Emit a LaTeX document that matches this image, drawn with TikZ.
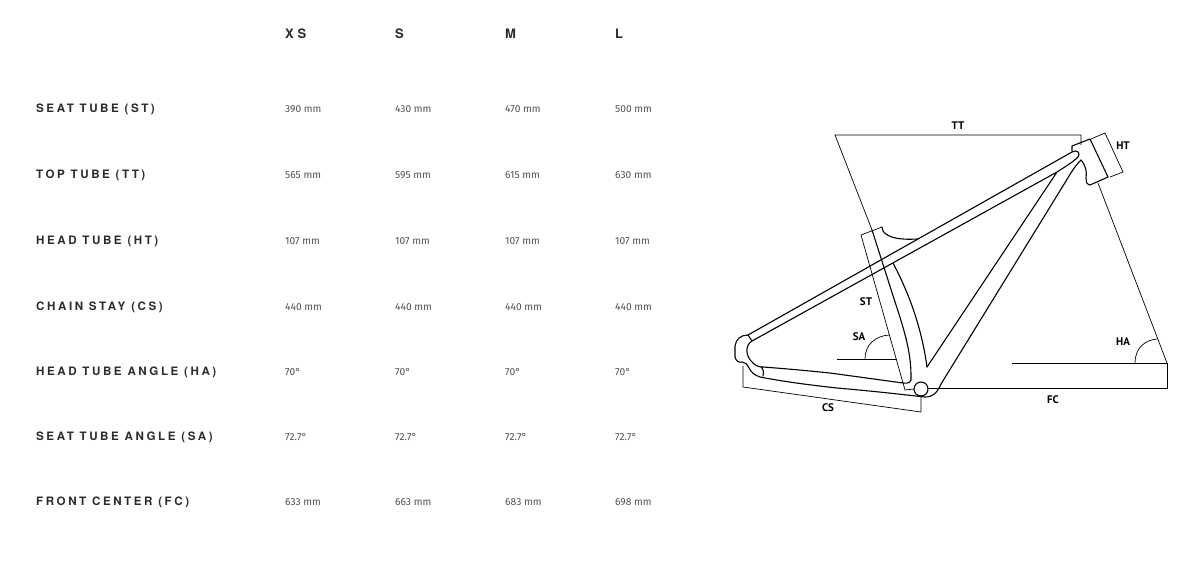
\documentclass[tikz,border=0pt]{standalone}
\usepackage{fontspec}
\setmainfont{TeX Gyre Heros}
\newfontfamily\rowfont[LetterSpace=22]{TeX Gyre Heros}
\newfontfamily\sizefont[LetterSpace=28]{TeX Gyre Heros}
\newfontfamily\valfont{Fira Sans}
\newfontfamily\tagfont{PT Sans}
\usepackage{tikz}
\usetikzlibrary{positioning}
\definecolor{encre}{RGB}{43,43,43}
\definecolor{gris}{RGB}{80,80,80}

\begin{document}
\begin{tikzpicture}[
	x=1pt, y=-1pt,
	rowname/.style={anchor=base west, inner sep=0pt, text=encre, font=\rowfont\bfseries\fontsize{11.6}{11.6}\selectfont},
	sizename/.style={anchor=base west, inner sep=0pt, text=encre, font=\sizefont\bfseries\fontsize{13}{13}\selectfont},
	val/.style={anchor=base west, inner sep=0pt, text=gris, font=\valfont\fontsize{10.2}{10.2}\selectfont},
	tag/.style={inner sep=0pt, font=\tagfont\bfseries\fontsize{11}{11}\selectfont},
	tube/.style={draw, line width=1.1pt, line join=round, line cap=round},
	dim/.style={draw, line width=0.7pt}
	]
	\useasboundingbox (0,0) rectangle (1195,565);

	% Les tailles
	\node[sizename] (xs) at (285,38) {XS};
	\node[sizename] (s) at (395,38) {S};
	\node[sizename] (m) at (505,38) {M};
	\node[sizename] (l) at (615,38) {L};

	% Les cotes
	\node[rowname] (st) at (36,112.5) {SEAT TUBE (ST)};
	\node[val] (st-xs) at (285,112.5) {390 mm};
	\node[val] (st-s) at (395,112.5) {430 mm};
	\node[val] (st-m) at (505,112.5) {470 mm};
	\node[val] (st-l) at (615,112.5) {500 mm};

	\node[rowname] (tt) at (36,178.5) {TOP TUBE (TT)};
	\node[val] (tt-xs) at (285,178.5) {565 mm};
	\node[val] (tt-s) at (395,178.5) {595 mm};
	\node[val] (tt-m) at (505,178.5) {615 mm};
	\node[val] (tt-l) at (615,178.5) {630 mm};

	\node[rowname] (ht) at (36,244) {HEAD TUBE (HT)};
	\node[val] (ht-xs) at (285,244) {107 mm};
	\node[val] (ht-s) at (395,244) {107 mm};
	\node[val] (ht-m) at (505,244) {107 mm};
	\node[val] (ht-l) at (615,244) {107 mm};

	\node[rowname] (cs) at (36,310) {CHAIN STAY (CS)};
	\node[val] (cs-xs) at (285,310) {440 mm};
	\node[val] (cs-s) at (395,310) {440 mm};
	\node[val] (cs-m) at (505,310) {440 mm};
	\node[val] (cs-l) at (615,310) {440 mm};

	\node[rowname] (ha) at (36,375.5) {HEAD TUBE ANGLE (HA)};
	\node[val] (ha-xs) at (285,375.5) {70°};
	\node[val] (ha-s) at (395,375.5) {70°};
	\node[val] (ha-m) at (505,375.5) {70°};
	\node[val] (ha-l) at (615,375.5) {70°};

	\node[rowname] (sa) at (36,440.5) {SEAT TUBE ANGLE (SA)};
	\node[val] (sa-xs) at (285,440.5) {72.7°};
	\node[val] (sa-s) at (395,440.5) {72.7°};
	\node[val] (sa-m) at (505,440.5) {72.7°};
	\node[val] (sa-l) at (615,440.5) {72.7°};

	\node[rowname] (fc) at (36,505.5) {FRONT CENTER (FC)};
	\node[val] (fc-xs) at (285,505.5) {633 mm};
	\node[val] (fc-s) at (395,505.5) {663 mm};
	\node[val] (fc-m) at (505,505.5) {683 mm};
	\node[val] (fc-l) at (615,505.5) {698 mm};

	% Le cadre
	\draw[tube] (748,335) -- (1072,152) .. controls (1077,149) and (1081,153) .. (1078,157)
		.. controls (1072,163) and (1063,168) .. (1057,172);
	\draw[tube] (752,341) -- (1057,172) -- (927,367);
	\draw[tube] (1081,160) .. controls (1075,166) and (1070,174) .. (1066,181) -- (941,384)
		.. controls (937,393) and (933,397) .. (925,397) -- (907,395)
		.. controls (880,392) and (860,390) .. (837,388) .. controls (800,384) and (775,380) .. (760,377)
		.. controls (754,375) and (751,372) .. (749,368) .. controls (747,364) and (745,362) .. (742,362)
		.. controls (739,363) and (736,361) .. (735,357) -- (735,346)
		.. controls (736,339) and (741,335) .. (748,335);
	\draw[tube] (763,367) .. controls (790,369) and (810,371) .. (830,373) -- (903,383)
		.. controls (909,384) and (912,382) .. (911,376) .. controls (911,355) and (906,335) .. (896,305) -- (872,230);
	\draw[tube] (752,341) .. controls (745,345) and (745,356) .. (753,363) .. controls (756,366) and (759,367) .. (763,367);
	\draw[tube] (748,335) -- (752,341);
	\draw[tube] (761,367) .. controls (764,370) and (764,373) .. (763,376);
	\draw[tube] (893,263) .. controls (910,295) and (922,330) .. (927,367);
	\draw[tube] (882,227) -- (883,231) .. controls (888,238) and (900,240) .. (917,239);
	\draw[tube] (1072,151) -- (1072,146) -- (1090,139) -- (1108,177) -- (1090,185)
		.. controls (1086,184) and (1086,181) .. (1086,178) .. controls (1087,172) and (1086,166) .. (1081,160);
	\draw[tube, fill=white] (921,389) circle[radius=7pt];

	% Les lignes de cote
	\draw[dim] (872,230) -- (835,135) -- (1081,135) -- (1081,145);
	\draw[dim] (1091,139) -- (1105,133) -- (1123,172) -- (1110,177);
	\draw[dim] (882,227) -- (861,235) -- (905,390) -- (914,389);
	\draw[dim] (1098,183) -- (1167,363);
	\draw[dim] (1012,363) -- (1167,363) -- (1167,388) -- (928,388);
	\draw[dim] (1135,363) .. controls (1135,348) and (1145,340) .. (1157,339);
	\draw[dim] (837,359) -- (897,359);
	\draw[dim] (865,359) .. controls (865,345) and (875,336) .. (889,335);
	\draw[dim] (743,366) -- (743,387) -- (921,412) -- (921,396);

	% Les etiquettes
	\node[tag] (tt-tag) at (958,126) {TT};
	\node[tag] (ht-tag) at (1123,146) {HT};
	\node[tag] (st-tag) at (866,302) {ST};
	\node[tag] (sa-tag) at (859,337) {SA};
	\node[tag] (ha-tag) at (1123,342) {HA};
	\node[tag] (fc-tag) at (1053,400) {FC};
	\node[tag] (cs-tag) at (828,408) {CS};
\end{tikzpicture}
\end{document}
